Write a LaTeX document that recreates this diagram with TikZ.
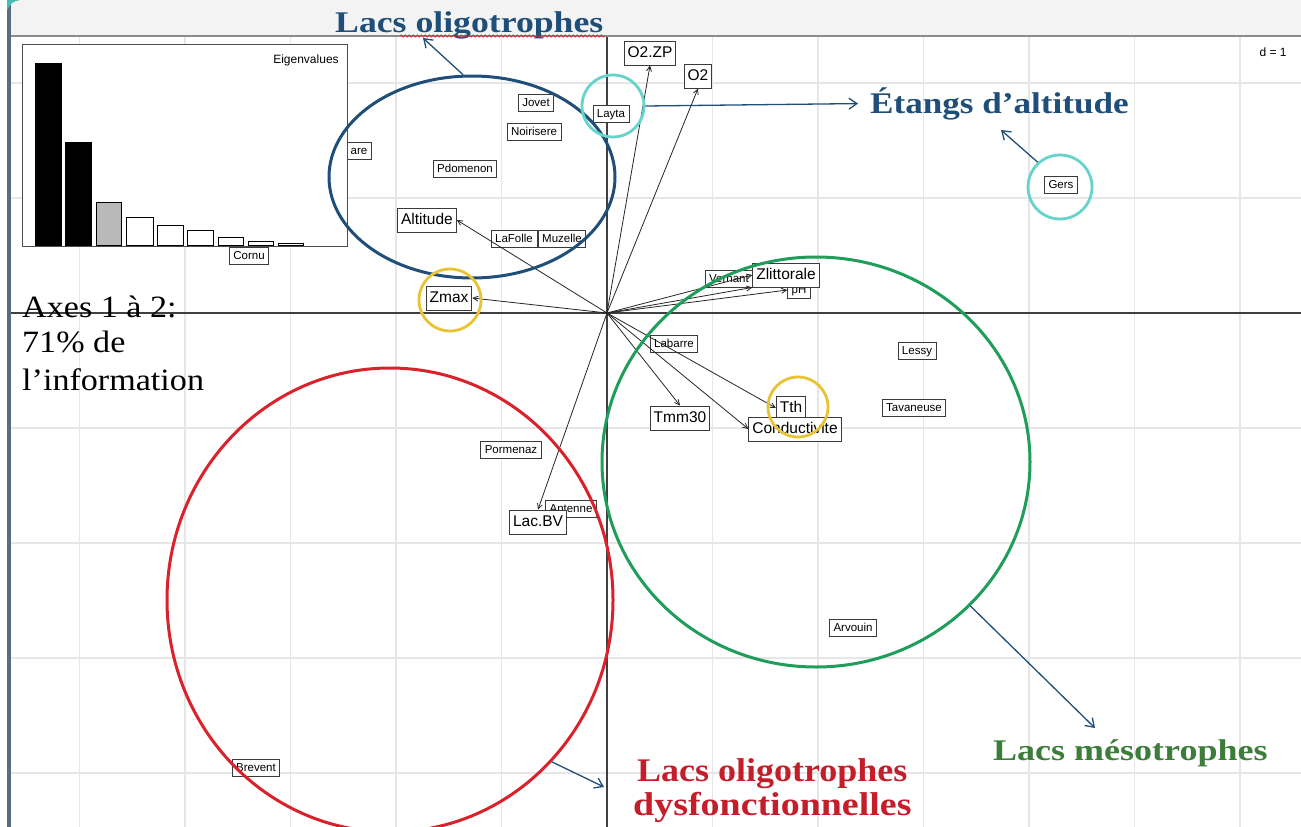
\documentclass[tikz,border=0pt]{standalone}
\usepackage{fontspec}
\setmainfont{Liberation Serif}
\setsansfont{Liberation Sans}
\usetikzlibrary{arrows.meta,shapes.geometric,decorations.pathmorphing}
\definecolor{dkblue}{HTML}{1F4E79}
\definecolor{turq}{HTML}{66D4CC}
\definecolor{gold}{HTML}{E8C334}
\definecolor{grn}{HTML}{1E9E5A}
\definecolor{grntext}{HTML}{3C7D3A}
\definecolor{rd}{HTML}{D9222B}
\definecolor{rdtext}{HTML}{C41E2A}
\definecolor{gridc}{HTML}{E6E6E6}
\definecolor{topbg}{HTML}{F3F3F3}
\definecolor{labc}{HTML}{3A3A3A}
\definecolor{barslate}{HTML}{5B6B80}
\pgfdeclarelayer{bg}
\pgfsetlayers{bg,main}
\tikzset{
  samp/.style={draw=labc, fill=white, line width=0.7pt, font=\sffamily\fontsize{11.5}{13}\selectfont, inner xsep=4pt, inner ysep=3.5pt, text height=8pt, text depth=2pt},
  varl/.style={draw=labc, fill=white, line width=0.9pt, font=\sffamily\fontsize{15.5}{17}\selectfont, inner xsep=3.5pt, inner ysep=5pt, text height=11pt, text depth=3pt},
  vec/.style={draw=black!85, line width=0.8pt, -{Straight Barb[length=5pt,width=5pt]}},
  call/.style={draw=dkblue, line width=1.3pt, -{Straight Barb[length=8pt,width=11pt]}},
  gridline/.style={draw=gridc, line width=1.5pt},
  axisl/.style={draw=black!75, line width=1.2pt},
  bigell/.style={ellipse, draw, line width=3pt, inner sep=0pt},
  ring/.style={circle, draw, line width=2.8pt, inner sep=0pt, minimum size=62pt},
  ttl/.style={inner sep=0pt, anchor=base west, font=\bfseries\fontsize{30}{30}\selectfont},
  axt/.style={inner sep=0pt, anchor=base west, font=\fontsize{31}{31}\selectfont},
}
\begin{document}
\begin{tikzpicture}[x=1pt,y=-1pt]
\useasboundingbox (0,0) rectangle (1301,827);
\begin{pgfonlayer}{bg}
\fill[white] (0,0) rectangle (1301,827);
\fill[topbg] (10,0) rectangle (1301,36);
\foreach \gx in {79.5,185,290.5,396,501.5,712.5,818,923.5,1029,1134.5,1240}
  \draw[gridline] (\gx,37) -- (\gx,827);
\foreach \gy in {83,198,428,543,658,773}
  \draw[gridline] (10,\gy) -- (1301,\gy);
\draw[axisl] (10,313) -- (1301,313);
\draw[axisl] (607,37) -- (607,827);
\draw[draw=black!45, line width=2pt] (10,36) -- (1301,36);
\fill[barslate] (7,0) rectangle (11,827);
\fill[turq!70!teal] (7,0) -- (20,0) .. controls (12,2) .. (7,10) -- cycle;
% sample labels
\node[samp] (are) at (359,151) {are};
\node[samp] (jovet) at (536,103) {Jovet};
\node[samp] (noir) at (534,132) {Noirisere};
\node[samp] (pdom) at (465,169) {Pdomenon};
\node[samp] (lafolle) at (514,239) {LaFolle};
\node[samp] (muzelle) at (562,239) {Muzelle};
\node[samp] (layta) at (611,114) {Layta};
\node[samp] (gers) at (1061,185) {Gers};
\node[samp] (pormenaz) at (511,450) {Pormenaz};
\node[samp] (antenne) at (571,509) {Antenne};
\node[samp] (vernant) at (729,279) {Vernant};
\node[samp] (ph) at (799,290) {pH};
\node[samp] (labarre) at (674,344) {Labarre};
\node[samp] (lessy) at (917,351) {Lessy};
\node[samp] (tavaneuse) at (914,408) {Tavaneuse};
\node[samp] (arvouin) at (853,628) {Arvouin};
\node[samp] (brevent) at (256,768) {Brevent};
% eigenvalue inset
\draw[draw=black!70, fill=white, line width=1pt] (22,44) rectangle (347,246);
\node[font=\sffamily\fontsize{12}{14}\selectfont, inner sep=0pt] (eig) at (306,60) {Eigenvalues};
\foreach \l/\r/\t/\c in {35/61/63/black,65/91/142/black,96/121/202/gray!55,126/153/217/white,157/183/225/white,187/213/230/white,218/243/237/white,248/273/241/white,278/303/243/white}
  \filldraw[fill=\c, draw=black, line width=0.9pt] (\l,245) rectangle (\r,\t);
\node[samp] (cornu) at (249,256) {Cornu};
\end{pgfonlayer}
% variables
\coordinate (o) at (607,313);
\node[varl] (o2zp) at (650,53) {O2.ZP};
\node[varl] (o2) at (698,76) {O2};
\node[varl] (altitude) at (427,220) {Altitude};
\node[varl] (zmax) at (449,298) {Zmax};
\node[varl] (lacbv) at (538,522) {Lac.BV};
\node[varl] (zlit) at (786,275) {Zlittorale};
\node[varl] (tmm30) at (680,418) {Tmm30};
\node[varl] (tth) at (791,408) {Tth};
\node[varl] (cond) at (795,429) {Conductivite};
\draw[vec] (o) -- (o2zp.south);
\draw[vec] (o) -- (o2.south);
\draw[vec] (o) -- (altitude.east);
\draw[vec] (o) -- (zmax.east);
\draw[vec] (o) -- (lacbv.north);
\draw[vec] (o) -- (zlit.west);
\draw[vec] (o) -- (zlit.south west);
\draw[vec] (o) -- (ph.west);
\draw[vec] (o) -- (tmm30.north);
\draw[vec] (o) -- (tth.west);
\draw[vec] (o) -- (cond.west);
% annotation shapes
\node[bigell, draw=dkblue, minimum width=286pt, minimum height=202pt] (blueell) at (472,177) {};
\node[bigell, draw=grn, minimum width=428pt, minimum height=410pt] (greenell) at (816,462) {};
\node[bigell, draw=rd, minimum width=446pt, minimum height=464pt] (redell) at (390,600) {};
\node[ring, draw=turq] (lcirc) at (613,106) {};
\node[ring, draw=turq, minimum size=64pt] (gcirc) at (1060,187) {};
\node[ring, draw=gold] (zcirc) at (450,300) {};
\node[ring, draw=gold, minimum size=60pt] (tcirc) at (798,407) {};
% titles
\node[ttl, text=dkblue] (lacsoli) at (335,32) {\scalebox{1.19}[1]{Lacs oligotrophes}};
\node[ttl, text=dkblue] (etangs) at (870,113) {\scalebox{1.17}[1]{Étangs d’altitude}};
\node[ttl, text=grntext] (meso) at (993,760) {\scalebox{1.2}[1]{Lacs mésotrophes}};
\node[ttl, text=rdtext, font=\bfseries\fontsize{33}{33}\selectfont] (dys1) at (637,781) {\scalebox{1.09}[1]{Lacs oligotrophes}};
\node[ttl, text=rdtext, font=\bfseries\fontsize{33}{33}\selectfont] (dys2) at (633,815) {\scalebox{1.15}[1]{dysfonctionnelles}};
\node[axt] (ax1) at (22,317) {\scalebox{1.1}[1]{Axes 1 à 2:}};
\node[axt] (ax2) at (22,352) {\scalebox{1.1}[1]{71\% de}};
\node[axt] (ax3) at (22,390) {\scalebox{1.1}[1]{l’information}};
\node[font=\sffamily\fontsize{12}{14}\selectfont, inner sep=0pt] (dlab) at (1273,52) {d = 1};
\draw[rd, line width=0.6pt, decorate, decoration={snake, amplitude=1.2pt, segment length=4pt}] (400,36) -- (605,36);
% callout arrows
\coordinate (bltip) at (423,38);
\coordinate (gtip) at (1001,130);
\coordinate (mtip) at (1095,728);
\coordinate (rtip) at (604,787);
\draw[call] (blueell.95) -- (bltip);
\draw[call, shorten >=12pt] (lcirc.east) -- (etangs.west);
\draw[call] (gcirc.132) -- (gtip);
\draw[call] (greenell.-43) -- (mtip);
\draw[call] (redell.-45) -- (rtip);
\end{tikzpicture}
\end{document}
